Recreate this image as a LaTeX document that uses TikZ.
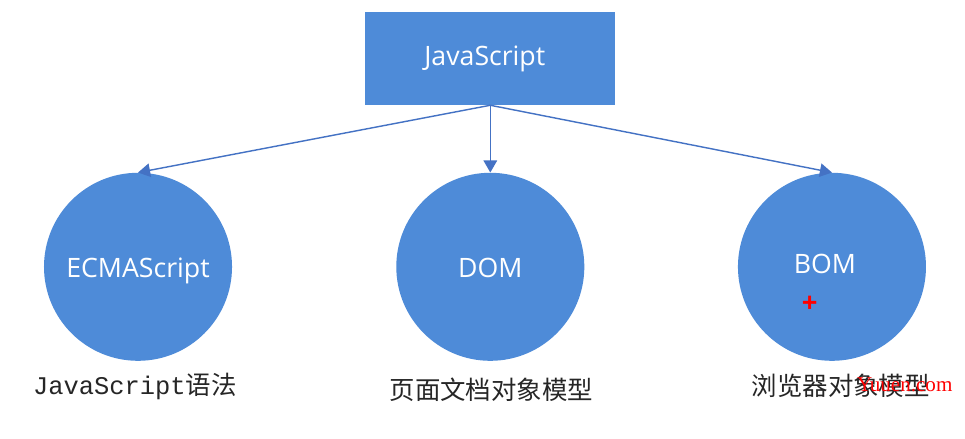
\documentclass[tikz,border=0pt]{standalone}
\usepackage{fontspec}
\setmainfont{Open Sans}
\newfontfamily\cjk{Noto Sans CJK SC}
\newfontfamily\codefont{Liberation Mono}
\newfontfamily\markfont{Liberation Serif}
\usetikzlibrary{arrows.meta}
\definecolor{boxblue}{RGB}{78,139,216}
\definecolor{linkblue}{RGB}{68,114,196}
\tikzset{
	part/.style = {circle, fill=boxblue, minimum size=5.3cm, inner sep=0pt, text=white, font=\fontsize{21.4}{25}\selectfont},
	link/.style = {draw=linkblue, line width=.4mm, -{Triangle[length=3.4mm, width=3.8mm]}},
	caption/.style = {text=black!85, inner sep=0pt, font=\fontsize{20.4}{24}\selectfont\cjk}
}

\begin{document}
\begin{tikzpicture}[x=1cm, y=1cm]
	\useasboundingbox (0,0) rectangle (27.2,12.37);
	\fill [white] (0,0) rectangle (27.2,12.37);
	\node [fill=boxblue, minimum width=7.05cm, minimum height=2.62cm, inner sep=0pt, text=white, font=\fontsize{21.4}{25}\selectfont] (js) at (13.82,10.72) {JavaScript\hspace{.31cm}\null};
	\node [part, text height=.73cm, text depth=.15cm] (ecma) at (3.89,4.85) {ECMAScript};
	\node [part, text height=.61cm, text depth=0cm] (dom) at (13.82,4.85) {DOM};
	\node [part, text height=.5cm, text depth=.11cm] (bom) at (23.45,4.85) {BOM\hspace{.4cm}\null};
	\draw [link] (js.south) -- (ecma.north);
	\draw [link] (js.south) -- (dom.north);
	\draw [link] (js.south) -- (bom.north);
	\node [caption] (ecmatext) at (3.80,1.49) {{\codefont JavaScript}语法};
	\node [caption] (domtext) at (13.85,1.38) {页面文档对象模型};
	\node [caption] (bomtext) at (23.70,1.49) {浏览器对象模型};
	\node [text=red, inner sep=0pt, font=\fontsize{22}{26}\bfseries\selectfont] (cursor) at (22.82,3.78) {+};
	\node [text=red, inner sep=0pt, font=\fontsize{16.9}{20}\markfont] (mark) at (25.50,1.52) {Yuuen.com};
\end{tikzpicture}
\end{document}
